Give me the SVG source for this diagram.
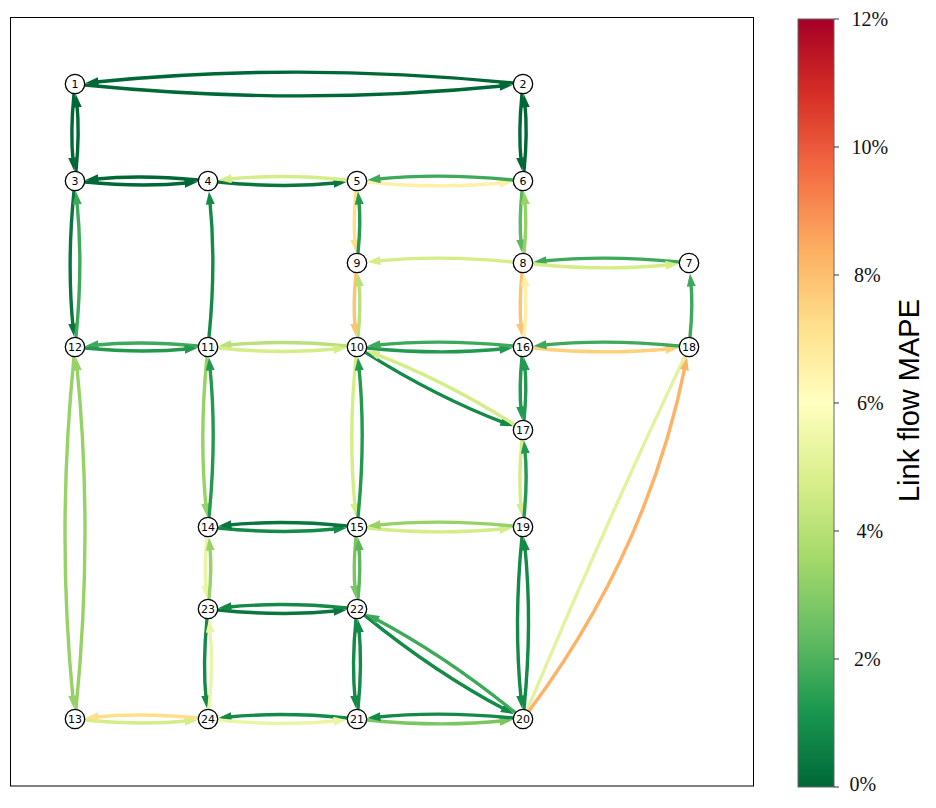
<svg xmlns="http://www.w3.org/2000/svg" width="936" height="808" viewBox="0 0 936 808">
<style>
.e{fill:none;stroke-width:3.4;stroke-linecap:butt}
.c1{stroke:#006837;marker-end:url(#m1)}
.c2{stroke:#0b7540;marker-end:url(#m2)}
.c3{stroke:#138a48;marker-end:url(#m3)}
.c4{stroke:#22994f;marker-end:url(#m4)}
.c5{stroke:#3ea95a;marker-end:url(#m5)}
.c6{stroke:#5cb860;marker-end:url(#m6)}
.c7{stroke:#7cc661;marker-end:url(#m7)}
.c8{stroke:#96d266;marker-end:url(#m8)}
.c9{stroke:#b9e07a;marker-end:url(#m9)}
.c10{stroke:#d5ed88;marker-end:url(#m10)}
.c11{stroke:#ecf5a6;marker-end:url(#m11)}
.c11n{stroke:#e4f29e}
.c12{stroke:#fef0a8;marker-end:url(#m12)}
.c13{stroke:#fee08b;marker-end:url(#m13)}
.c14{stroke:#fdc474;marker-end:url(#m14)}
.c14b{stroke:#fed07c;marker-end:url(#m14b)}
.c15{stroke:#fdb266;marker-end:url(#m15)}
.node circle{fill:#fff;stroke:#000;stroke-width:1.3}
.node text{font-family:"DejaVu Sans",sans-serif;font-size:11px;text-anchor:middle;fill:#000}
.tick{stroke:#333;stroke-width:1}
.tl{font-family:"Liberation Serif",serif;font-size:20px;fill:#111}
</style>
<defs>
<marker id="m1" viewBox="0 0 13 9" refX="5" refY="4.5" markerWidth="13" markerHeight="9" markerUnits="userSpaceOnUse" orient="auto"><path d="M0,0 L13,4.5 L0,9 z" fill="#006837"/></marker>
<marker id="m2" viewBox="0 0 13 9" refX="5" refY="4.5" markerWidth="13" markerHeight="9" markerUnits="userSpaceOnUse" orient="auto"><path d="M0,0 L13,4.5 L0,9 z" fill="#0b7540"/></marker>
<marker id="m3" viewBox="0 0 13 9" refX="5" refY="4.5" markerWidth="13" markerHeight="9" markerUnits="userSpaceOnUse" orient="auto"><path d="M0,0 L13,4.5 L0,9 z" fill="#138a48"/></marker>
<marker id="m4" viewBox="0 0 13 9" refX="5" refY="4.5" markerWidth="13" markerHeight="9" markerUnits="userSpaceOnUse" orient="auto"><path d="M0,0 L13,4.5 L0,9 z" fill="#22994f"/></marker>
<marker id="m5" viewBox="0 0 13 9" refX="5" refY="4.5" markerWidth="13" markerHeight="9" markerUnits="userSpaceOnUse" orient="auto"><path d="M0,0 L13,4.5 L0,9 z" fill="#3ea95a"/></marker>
<marker id="m6" viewBox="0 0 13 9" refX="5" refY="4.5" markerWidth="13" markerHeight="9" markerUnits="userSpaceOnUse" orient="auto"><path d="M0,0 L13,4.5 L0,9 z" fill="#5cb860"/></marker>
<marker id="m7" viewBox="0 0 13 9" refX="5" refY="4.5" markerWidth="13" markerHeight="9" markerUnits="userSpaceOnUse" orient="auto"><path d="M0,0 L13,4.5 L0,9 z" fill="#7cc661"/></marker>
<marker id="m8" viewBox="0 0 13 9" refX="5" refY="4.5" markerWidth="13" markerHeight="9" markerUnits="userSpaceOnUse" orient="auto"><path d="M0,0 L13,4.5 L0,9 z" fill="#96d266"/></marker>
<marker id="m9" viewBox="0 0 13 9" refX="5" refY="4.5" markerWidth="13" markerHeight="9" markerUnits="userSpaceOnUse" orient="auto"><path d="M0,0 L13,4.5 L0,9 z" fill="#b9e07a"/></marker>
<marker id="m10" viewBox="0 0 13 9" refX="5" refY="4.5" markerWidth="13" markerHeight="9" markerUnits="userSpaceOnUse" orient="auto"><path d="M0,0 L13,4.5 L0,9 z" fill="#d5ed88"/></marker>
<marker id="m11" viewBox="0 0 13 9" refX="5" refY="4.5" markerWidth="13" markerHeight="9" markerUnits="userSpaceOnUse" orient="auto"><path d="M0,0 L13,4.5 L0,9 z" fill="#ecf5a6"/></marker>
<marker id="m12" viewBox="0 0 13 9" refX="5" refY="4.5" markerWidth="13" markerHeight="9" markerUnits="userSpaceOnUse" orient="auto"><path d="M0,0 L13,4.5 L0,9 z" fill="#fef0a8"/></marker>
<marker id="m13" viewBox="0 0 13 9" refX="5" refY="4.5" markerWidth="13" markerHeight="9" markerUnits="userSpaceOnUse" orient="auto"><path d="M0,0 L13,4.5 L0,9 z" fill="#fee08b"/></marker>
<marker id="m14" viewBox="0 0 13 9" refX="5" refY="4.5" markerWidth="13" markerHeight="9" markerUnits="userSpaceOnUse" orient="auto"><path d="M0,0 L13,4.5 L0,9 z" fill="#fdc474"/></marker>
<marker id="m14b" viewBox="0 0 13 9" refX="5" refY="4.5" markerWidth="13" markerHeight="9" markerUnits="userSpaceOnUse" orient="auto"><path d="M0,0 L13,4.5 L0,9 z" fill="#fed07c"/></marker>
<marker id="m15" viewBox="0 0 13 9" refX="5" refY="4.5" markerWidth="13" markerHeight="9" markerUnits="userSpaceOnUse" orient="auto"><path d="M0,0 L13,4.5 L0,9 z" fill="#fdb266"/></marker>
<linearGradient id="cmap" x1="0" y1="1" x2="0" y2="0">
<stop offset="0" stop-color="#006837"/>
<stop offset="0.1" stop-color="#1a9850"/>
<stop offset="0.2" stop-color="#66bd63"/>
<stop offset="0.3" stop-color="#a6d96a"/>
<stop offset="0.4" stop-color="#d9ef8b"/>
<stop offset="0.5" stop-color="#ffffbf"/>
<stop offset="0.6" stop-color="#fee08b"/>
<stop offset="0.7" stop-color="#fdae61"/>
<stop offset="0.8" stop-color="#f46d43"/>
<stop offset="0.9" stop-color="#d73027"/>
<stop offset="1" stop-color="#a50026"/>
</linearGradient>
</defs>
<rect width="936" height="808" fill="#fff"/>
<rect id="frame" x="10.5" y="17.5" width="743" height="768.5" fill="none" stroke="#000" stroke-width="1"/>
<g id="connectors">
<path class="e c1" d="M85,85 Q299,106.4 504.6,85.8"/>
<path class="e c1" d="M513,83 Q299,61.6 93.4,82.2"/>
<path class="e c1" d="M74,94 Q70.15,132.5 73.2,162.6"/>
<path class="e c1" d="M76,171 Q79.85,132.5 76.8,102.4"/>
<path class="e c1" d="M522,94 Q518.15,132.5 521.2,162.6"/>
<path class="e c1" d="M524,171 Q527.85,132.5 524.8,102.4"/>
<path class="e c1" d="M85,182 Q141.5,187.65 189.6,182.8"/>
<path class="e c1" d="M198,180 Q141.5,174.35 93.4,179.2"/>
<path class="e c2" d="M218,182 Q282.5,188.45 338.6,182.8"/>
<path class="e c10" d="M347,180 Q282.5,173.55 226.4,179.2"/>
<path class="e c12" d="M367,182 Q440,189.3 504.6,182.8"/>
<path class="e c5" d="M513,180 Q440,172.7 375.4,179.2"/>
<path class="e c2" d="M74,191 Q66.7,264 73.2,328.6"/>
<path class="e c5" d="M76,337 Q83.3,264 76.8,199.4"/>
<path class="e c3" d="M209,337 Q216.3,264 209.8,199.4"/>
<path class="e c13" d="M356,191 Q352.9,222 355.2,244.6"/>
<path class="e c4" d="M358,253 Q361.1,222 358.8,199.4"/>
<path class="e c6" d="M522,191 Q518.9,222 521.2,244.6"/>
<path class="e c8" d="M524,253 Q527.1,222 524.8,199.4"/>
<path class="e c10" d="M513,262 Q440,254.7 375.4,261.2"/>
<path class="e c5" d="M679,262 Q606,254.7 541.4,261.2"/>
<path class="e c10" d="M533,264 Q606,271.3 670.6,264.8"/>
<path class="e c5" d="M690,337 Q693.2,305 690.8,281.4"/>
<path class="e c14" d="M522,273 Q518.8,305 521.2,328.6"/>
<path class="e c12" d="M524,337 Q527.2,305 524.8,281.4"/>
<path class="e c14" d="M356,273 Q352.8,305 355.2,328.6"/>
<path class="e c9" d="M358,337 Q361.2,305 358.8,281.4"/>
<path class="e c9" d="M347,346 Q282.5,339.55 226.4,345.2"/>
<path class="e c10" d="M218,348 Q282.5,354.45 338.6,348.8"/>
<path class="e c5" d="M198,346 Q141.5,340.35 93.4,345.2"/>
<path class="e c4" d="M85,348 Q141.5,353.65 189.6,348.8"/>
<path class="e c8" d="M207,357 Q199,437 206.2,508.6"/>
<path class="e c4" d="M209,517 Q217,437 209.8,365.4"/>
<path class="e c8" d="M74,357 Q56.4,533 73.2,700.6"/>
<path class="e c8" d="M76,709 Q93.6,533 76.8,365.4"/>
<path class="e c10" d="M85,720 Q141.5,725.65 189.6,720.8"/>
<path class="e c13" d="M198,718 Q141.5,712.35 93.4,717.2"/>
<path class="e c10" d="M356,357 Q348,437 355.2,508.6"/>
<path class="e c4" d="M358,517 Q366,437 358.8,365.4"/>
<path class="e c4" d="M367,348 Q440,355.3 504.6,348.8"/>
<path class="e c5" d="M513,346 Q440,338.7 375.4,345.2"/>
<path class="e c3" d="M365.45,352.34 Q435.85,396.8 505.72,423.42"/>
<path class="e c10" d="M514.55,424.66 Q444.15,380.2 374.28,353.58"/>
<path class="e c4" d="M522,357 Q518.85,388.5 521.2,411.6"/>
<path class="e c4" d="M524,420 Q527.15,388.5 524.8,365.4"/>
<path class="e c14b" d="M533,348 Q606,355.3 670.6,348.8"/>
<path class="e c5" d="M679,346 Q606,338.7 541.4,345.2"/>
<path class="e c10" d="M522,440 Q518.15,478.5 521.2,508.6"/>
<path class="e c4" d="M524,517 Q527.85,478.5 524.8,448.4"/>
<path class="e c3" d="M218,528 Q282.5,534.45 338.6,528.8"/>
<path class="e c2" d="M347,526 Q282.5,519.55 226.4,525.2"/>
<path class="e c10" d="M367,528 Q440,535.3 504.6,528.8"/>
<path class="e c8" d="M513,526 Q440,518.7 375.4,525.2"/>
<path class="e c11" d="M207,537 Q203.9,568 206.2,590.6"/>
<path class="e c8" d="M209,599 Q212.1,568 209.8,545.4"/>
<path class="e c7" d="M356,537 Q352.9,568 355.2,590.6"/>
<path class="e c6" d="M358,599 Q361.1,568 358.8,545.4"/>
<path class="e c3" d="M522,537 Q513.4,623 521.2,700.6"/>
<path class="e c3" d="M524,709 Q532.6,623 524.8,545.4"/>
<path class="e c2" d="M218,610 Q282.5,616.45 338.6,610.8"/>
<path class="e c3" d="M347,608 Q282.5,601.55 226.4,607.2"/>
<path class="e c3" d="M207,619 Q202.5,664 206.2,700.6"/>
<path class="e c11" d="M209,709 Q213.5,664 209.8,627.4"/>
<path class="e c3" d="M356,619 Q351.5,664 355.2,700.6"/>
<path class="e c3" d="M358,709 Q362.5,664 358.8,627.4"/>
<path class="e c3" d="M347,718 Q282.5,711.55 226.4,717.2"/>
<path class="e c11" d="M218,720 Q282.5,726.45 338.6,720.8"/>
<path class="e c7" d="M367,720 Q440,727.3 504.6,720.8"/>
<path class="e c3" d="M513,718 Q440,710.7 375.4,717.2"/>
<path class="e c3" d="M364.75,615.33 Q434.5,672.3 506.64,710.36"/>
<path class="e c5" d="M515.25,712.67 Q445.5,655.7 373.36,617.64"/>
<path class="e c11n" d="M684.9,356.1 Q602.3,531.3 527.1,709.9"/>
<path class="e c15" d="M529,711 Q648,551.7 685.37,365.14"/>
</g>
<g id="n1" class="node"><circle cx="75" cy="84" r="9.7"/><text x="75" y="88">1</text></g>
<g id="n2" class="node"><circle cx="523" cy="84" r="9.7"/><text x="523" y="88">2</text></g>
<g id="n3" class="node"><circle cx="75" cy="181" r="9.7"/><text x="75" y="185">3</text></g>
<g id="n4" class="node"><circle cx="208" cy="181" r="9.7"/><text x="208" y="185">4</text></g>
<g id="n5" class="node"><circle cx="357" cy="181" r="9.7"/><text x="357" y="185">5</text></g>
<g id="n6" class="node"><circle cx="523" cy="181" r="9.7"/><text x="523" y="185">6</text></g>
<g id="n7" class="node"><circle cx="689" cy="263" r="9.7"/><text x="689" y="267">7</text></g>
<g id="n8" class="node"><circle cx="523" cy="263" r="9.7"/><text x="523" y="267">8</text></g>
<g id="n9" class="node"><circle cx="357" cy="263" r="9.7"/><text x="357" y="267">9</text></g>
<g id="n10" class="node"><circle cx="357" cy="347" r="9.7"/><text x="357" y="351">10</text></g>
<g id="n11" class="node"><circle cx="208" cy="347" r="9.7"/><text x="208" y="351">11</text></g>
<g id="n12" class="node"><circle cx="75" cy="347" r="9.7"/><text x="75" y="351">12</text></g>
<g id="n13" class="node"><circle cx="75" cy="719" r="9.7"/><text x="75" y="723">13</text></g>
<g id="n14" class="node"><circle cx="208" cy="527" r="9.7"/><text x="208" y="531">14</text></g>
<g id="n15" class="node"><circle cx="357" cy="527" r="9.7"/><text x="357" y="531">15</text></g>
<g id="n16" class="node"><circle cx="523" cy="347" r="9.7"/><text x="523" y="351">16</text></g>
<g id="n17" class="node"><circle cx="523" cy="430" r="9.7"/><text x="523" y="434">17</text></g>
<g id="n18" class="node"><circle cx="689" cy="347" r="9.7"/><text x="689" y="351">18</text></g>
<g id="n19" class="node"><circle cx="523" cy="527" r="9.7"/><text x="523" y="531">19</text></g>
<g id="n20" class="node"><circle cx="523" cy="719" r="9.7"/><text x="523" y="723">20</text></g>
<g id="n21" class="node"><circle cx="357" cy="719" r="9.7"/><text x="357" y="723">21</text></g>
<g id="n22" class="node"><circle cx="357" cy="609" r="9.7"/><text x="357" y="613">22</text></g>
<g id="n23" class="node"><circle cx="208" cy="609" r="9.7"/><text x="208" y="613">23</text></g>
<g id="n24" class="node"><circle cx="208" cy="719" r="9.7"/><text x="208" y="723">24</text></g>
<g id="colorbar">
<rect x="798" y="19" width="36" height="768" fill="url(#cmap)" stroke="#666" stroke-width="1"/>
<line class="tick" x1="834" y1="787" x2="839" y2="787"/>
<line class="tick" x1="834" y1="659" x2="839" y2="659"/>
<line class="tick" x1="834" y1="531" x2="839" y2="531"/>
<line class="tick" x1="834" y1="403" x2="839" y2="403"/>
<line class="tick" x1="834" y1="275" x2="839" y2="275"/>
<line class="tick" x1="834" y1="147" x2="839" y2="147"/>
<line class="tick" x1="834" y1="19" x2="839" y2="19"/>
<text class="tl" x="849.5" y="791">0%</text>
<text class="tl" x="854" y="665.5">2%</text>
<text class="tl" x="856.5" y="537.5">4%</text>
<text class="tl" x="857" y="409.5">6%</text>
<text class="tl" x="854" y="281.5">8%</text>
<text class="tl" x="851.5" y="153.5">10%</text>
<text class="tl" x="851.5" y="25.5">12%</text>
<text x="919" y="400.5" transform="rotate(-90 919 400.5)" font-family="Liberation Sans, Arial, sans-serif" font-size="29" text-anchor="middle" fill="#000">Link flow MAPE</text>
</g>
</svg>
